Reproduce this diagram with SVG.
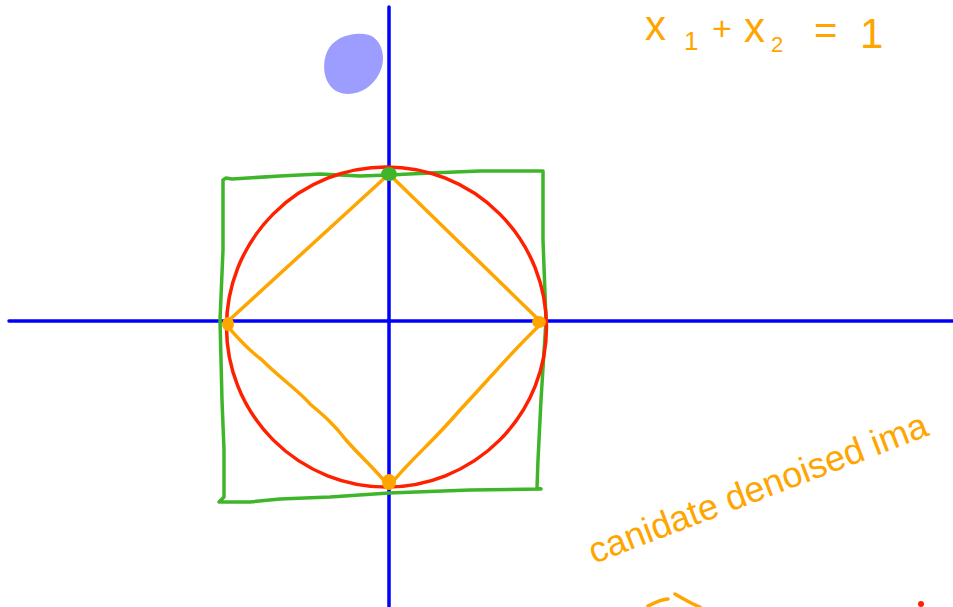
<svg xmlns="http://www.w3.org/2000/svg" width="953" height="607" viewBox="0 0 953 607">
<style>
.ax{stroke:#0000ff;stroke-width:3.5;fill:none;stroke-linecap:round}
.sq{stroke:#3fb62a;stroke-width:3.5;fill:none;stroke-linecap:round;stroke-linejoin:round}
.ci{stroke:#ff2000;stroke-width:3.5;fill:none}
.or{stroke:#ffa500;stroke-width:3.5;fill:none;stroke-linecap:round;stroke-linejoin:round}
.hw{fill:#ffa500;font-family:"Liberation Sans",sans-serif}
</style>
<rect width="953" height="607" fill="#ffffff"/>
<g id="axes">
<line class="ax" x1="9" y1="321" x2="953" y2="321"/>
<line class="ax" x1="389" y1="7" x2="389" y2="607"/>
</g>
<g id="blob">
<path d="M327,52 C333,37 354,31 369,35 C383,40 387,60 379,74 C372,88 356,97 341,93 C324,88 321,66 327,52 Z" fill="#9d9cff"/>
</g>
<g id="square">
<path class="sq" d="M223,180 L226,178 L232,179 L280,176 L320,174 L360,176 L389,175 L430,173 L480,171 L543,171 L543,240 L546,320 L541,400 L538,460 L537,488 L541,489 L470,490 L389,493 L330,497 L280,499 L250,502 L219,502 L224,497 L224,450 L222,400 L220,320 L223,250 L223,180"/>
</g>
<g id="circle">
<circle class="ci" cx="386.5" cy="327" r="160"/>
</g>
<g id="diamond">
<path class="or" d="M389,174 L541,322 M389,174 L226,323 M229,328 C238,338 246,348 262,360 C280,378 300,392 310,404 C322,414 334,424 346,440 C360,456 372,466 387,484 M391,484 C410,460 430,445 460,410 C490,378 515,348 541,324"/>
</g>
<g id="points">
<ellipse cx="389" cy="174" rx="8" ry="7" fill="#3fb62a"/>
<ellipse cx="228" cy="324" rx="6" ry="7" fill="#ffa500"/>
<ellipse cx="539" cy="322" rx="7" ry="6" fill="#ffa500"/>
<ellipse cx="389" cy="482" rx="7" ry="8" fill="#ffa500"/>
</g>
<g id="equation" class="hw">
<text x="645" y="40" font-size="42">x<tspan x="684" dy="10" font-size="26">1</tspan><tspan x="712" dy="-10" font-size="34">+</tspan><tspan x="744" dy="2" font-size="42">x</tspan><tspan x="771" dy="10" font-size="22">2</tspan><tspan x="814" dy="-8" font-size="40">=</tspan><tspan x="860" dy="4" font-size="42">1</tspan></text>
</g>
<g id="note" class="hw">
<text x="594" y="564" font-size="36" transform="rotate(-21 594 564)">canidate denoised ima</text>
</g>
<g id="fragments">
<path class="or" d="M648,606 C656,602 664,599 668,599 M675,594 C684,599 690,603 700,607"/>
<circle cx="921" cy="604" r="3" fill="#ff2000"/>
</g>
</svg>
